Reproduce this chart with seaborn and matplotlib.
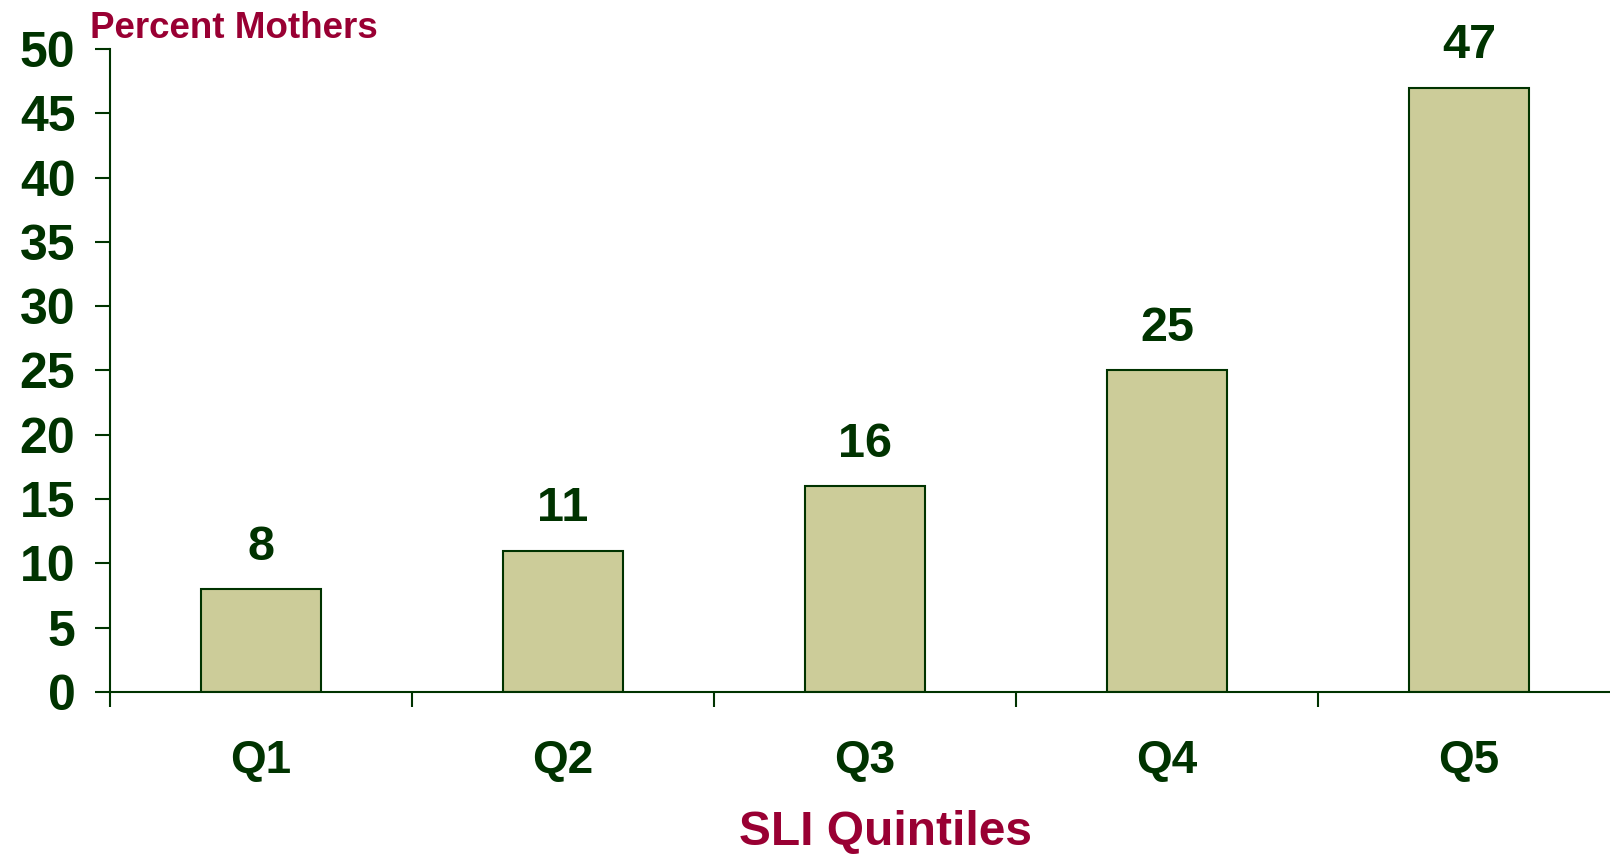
import seaborn as sns
import matplotlib.pyplot as plt
import pandas as pd

quintiles = ["Q1", "Q2", "Q3", "Q4", "Q5"]
percent = [8, 11, 16, 25, 47]
yticks = [0, 5, 10, 15, 20, 25, 30, 35, 40, 45, 50]

green = "#003300"
maroon = "#990033"

sns.set_style("white")
plt.rcParams["font.family"] = ["Liberation Sans", "DejaVu Sans"]
plt.rcParams["font.weight"] = "bold"

data = pd.DataFrame({"quintile": quintiles, "percent": percent})

fig = plt.figure(figsize=(16.1, 8.55), dpi=100)
ax = fig.add_axes([110 / 1610, 1 - 692 / 855, 1510 / 1610, 643 / 855])

sns.barplot(x="quintile", y="percent", data=data, color="#CCCC99",
            edgecolor=green, linewidth=1.5, width=0.4, saturation=1, ax=ax)

for i, v in enumerate(percent):
    ax.annotate(str(v), (i, v), xytext=(0, 14), textcoords="offset points",
                ha="center", va="bottom", fontsize=35, fontweight="bold", color=green)

ax.set_xlim(-0.5, 4.5)
ax.set_ylim(0, 50)
ax.set_yticks(yticks)
ax.set_yticklabels([str(t) for t in yticks], fontsize=36, fontweight="bold", color=green)
ax.set_xticks(range(len(quintiles)))
ax.set_xticklabels(quintiles, fontsize=33, fontweight="bold", color=green)
ax.set_xticks([i - 0.5 for i in range(len(quintiles) + 1)], minor=True)
ax.tick_params(axis="x", which="major", bottom=True, length=0, pad=34)
ax.tick_params(axis="x", which="minor", bottom=True, length=11, width=1.5,
               color=green, direction="out")
ax.tick_params(axis="y", left=True, length=11, width=1.5, color=green,
               direction="out", pad=14)
ax.set_xlabel("")
ax.set_ylabel("")

for side in ["top", "right"]:
    ax.spines[side].set_visible(False)
for side in ["left", "bottom"]:
    ax.spines[side].set_color(green)
    ax.spines[side].set_linewidth(1.5)

fig.text(90 / 1610, 1 - 29 / 855, "Percent Mothers", fontsize=26.5, fontweight="bold",
         color=maroon, ha="left", va="center")
fig.text(885 / 1610, 1 - 845 / 855, "SLI Quintiles", fontsize=34.5, fontweight="bold",
         color=maroon, ha="center", va="baseline")

fig.savefig("out.png", dpi=100)
